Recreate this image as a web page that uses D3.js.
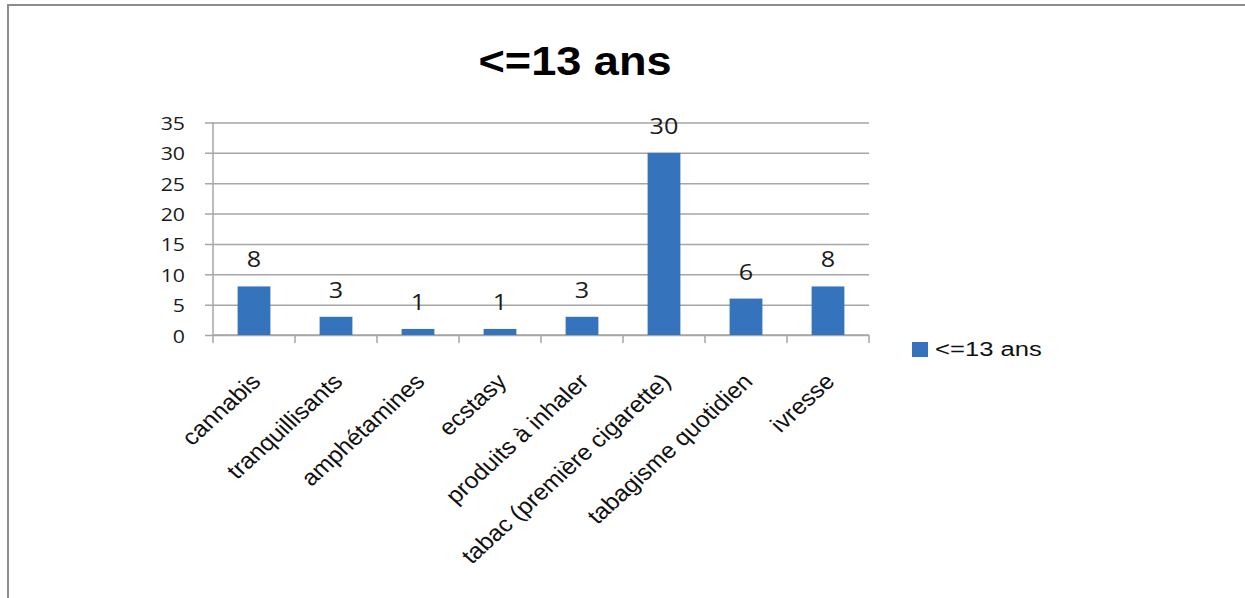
<!DOCTYPE html>
<html>
<head>
<meta charset="utf-8">
<script src="https://cdn.jsdelivr.net/npm/d3@7"></script>
<style>
  html, body { margin: 0; padding: 0; background: #fff; }
  svg { display: block; }
</style>
</head>
<body>
<svg id="chart" width="1245" height="598"></svg>
<script>
// Age at first use: 13 years old or younger
const categories = [
  "cannabis",
  "tranquillisants",
  "amphétamines",
  "ecstasy",
  "produits à inhaler",
  "tabac (première cigarette)",
  "tabagisme quotidien",
  "ivresse"
];
const values = [8, 3, 1, 1, 3, 30, 6, 8];
const yTicks = [0, 5, 10, 15, 20, 25, 30, 35];
const seriesName = "<=13 ans";
const chartTitle = "<=13 ans";

const W = 1245, H = 598;
const plot = { left: 213, right: 869, top: 122.5, bottom: 335 };
const stretch = 1.2;           // horizontal text widening
const barColor = "#3573BD";
const gridColor = "#a6a6a6";
const numFont = "'Open Sans', Lato, sans-serif";
const textFont = "'Liberation Sans', Arial, sans-serif";

const svg = d3.select("#chart");

// frame
svg.append("path")
  .attr("d", `M8,${H} L8,5 L${W},5`)
  .attr("fill", "none")
  .attr("stroke", "#8c8c8c")
  .attr("stroke-width", 2);

const x = d3.scaleBand()
  .domain(categories)
  .range([plot.left, plot.right])
  .paddingInner(0.6)
  .paddingOuter(0.3);

const y = d3.scaleLinear()
  .domain([0, 35])
  .range([plot.bottom, plot.top]);

// title
svg.append("text")
  .attr("transform", `translate(575,75) scale(1.1,1)`)
  .attr("text-anchor", "middle")
  .attr("font-family", textFont)
  .attr("font-weight", "bold")
  .attr("font-size", 41)
  .attr("fill", "#000")
  .text(chartTitle);

// horizontal gridlines + y labels
const yAxis = d3.axisLeft(y)
  .tickValues(yTicks)
  .tickSize(plot.right - plot.left + 8)
  .tickFormat(d3.format("d"));

const gy = svg.append("g")
  .attr("transform", `translate(${plot.right},0)`)
  .call(yAxis);
gy.select(".domain").remove();
gy.selectAll(".tick line")
  .attr("stroke", gridColor)
  .attr("stroke-width", 1.5);
gy.selectAll(".tick text")
  .attr("x", null)
  .attr("dy", null)
  .attr("text-anchor", "end")
  .attr("font-family", numFont)
  .attr("font-size", 18.5)
  .attr("fill", "#1a1a1a")
  .attr("transform", `translate(${185 - plot.right},7) scale(1.15,1)`);

// y axis line
svg.append("line")
  .attr("x1", plot.left).attr("x2", plot.left)
  .attr("y1", plot.top).attr("y2", plot.bottom)
  .attr("stroke", gridColor)
  .attr("stroke-width", 1.5);

// x axis with ticks between categories
const boundaries = d3.range(categories.length + 1)
  .map(i => plot.left + i * (plot.right - plot.left) / categories.length);
const gx = svg.append("g");
gx.append("line")
  .attr("x1", plot.left).attr("x2", plot.right)
  .attr("y1", plot.bottom).attr("y2", plot.bottom)
  .attr("stroke", gridColor)
  .attr("stroke-width", 1.5);
gx.selectAll("line.tk")
  .data(boundaries)
  .join("line")
  .attr("class", "tk")
  .attr("x1", d => d).attr("x2", d => d)
  .attr("y1", plot.bottom).attr("y2", plot.bottom + 8)
  .attr("stroke", gridColor)
  .attr("stroke-width", 1.5);

// bars
const data = categories.map((c, i) => ({ c, v: values[i] }));
svg.selectAll("rect.bar")
  .data(data)
  .join("rect")
  .attr("class", "bar")
  .attr("x", d => x(d.c))
  .attr("y", d => y(d.v))
  .attr("width", x.bandwidth())
  .attr("height", d => y(0) - y(d.v))
  .attr("fill", barColor);

// value labels
svg.selectAll("text.val")
  .data(data)
  .join("text")
  .attr("class", "val")
  .attr("text-anchor", "middle")
  .attr("font-family", numFont)
  .attr("font-size", 22.5)
  .attr("fill", "#1a1a1a")
  .attr("transform", d => `translate(${x(d.c) + x.bandwidth() / 2},${y(d.v) - 19}) scale(1.12,1)`)
  .text(d => d.v);

// category labels
svg.selectAll("text.cat")
  .data(categories)
  .join("text")
  .attr("class", "cat")
  .attr("text-anchor", "end")
  .attr("font-family", textFont)
  .attr("font-size", 22.5)
  .attr("fill", "#111")
  .attr("transform", d => `translate(${x(d) + x.bandwidth() / 2 + 8},${plot.bottom + 48}) scale(1.1,1) rotate(-45)`)
  .text(d => d);

// legend
const lg = svg.append("g").attr("transform", "translate(912,342)");
lg.append("rect")
  .attr("width", 16).attr("height", 15)
  .attr("fill", barColor);
lg.append("text")
  .attr("transform", `translate(23,14) scale(1.22,1)`)
  .attr("font-family", textFont)
  .attr("font-size", 21)
  .attr("fill", "#111")
  .text(seriesName);
</script>
</body>
</html>
